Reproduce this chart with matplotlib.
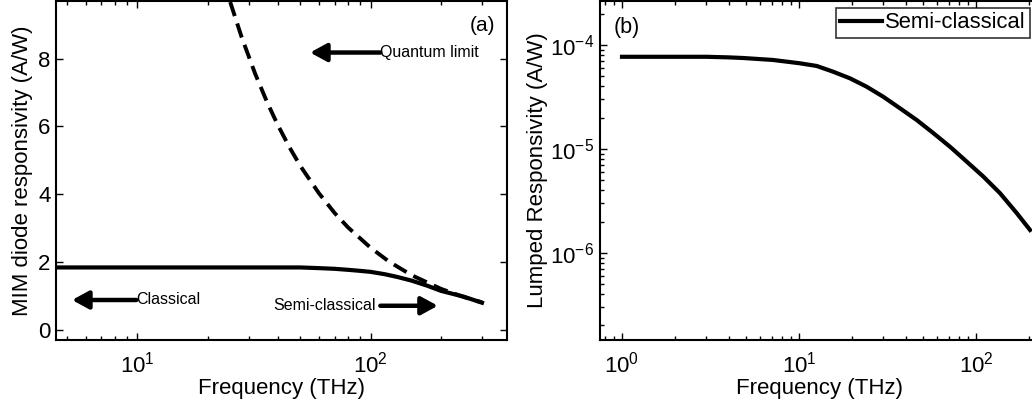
import matplotlib
matplotlib.use("Agg")
import matplotlib.pyplot as plt
from matplotlib.ticker import LogLocator, NullFormatter
from matplotlib.transforms import IdentityTransform

plt.rcParams['font.family'] = ['Liberation Sans', 'DejaVu Sans']
plt.rcParams['mathtext.default'] = 'regular'

# (a) MIM diode responsivity vs frequency
freq_sc = [4.5, 10, 20, 40, 50, 60, 70, 80, 90, 100, 115, 130, 150, 175,
           200, 250, 300]
resp_sc = [1.84, 1.84, 1.84, 1.84, 1.84, 1.82, 1.80, 1.77, 1.74, 1.71, 1.64,
           1.56, 1.45, 1.30, 1.15, 0.98, 0.80]

freq_q = [25, 28, 32, 36, 40, 45, 50, 60, 70, 80, 100, 120, 150, 200, 250, 300]
resp_q = [9.67, 8.63, 7.55, 6.71, 6.04, 5.37, 4.83, 4.03, 3.45, 3.02, 2.42,
          2.01, 1.61, 1.21, 0.97, 0.81]

# (b) lumped responsivity
freq_b = [1, 2, 3, 4, 4.8, 7.1, 10.1, 12.6, 15.6, 19.4, 24.1, 29.9, 37.2,
          46.2, 57.4, 71.3, 88.6, 110, 136.7, 170, 202]
resp_b = [7.7e-5, 7.7e-5, 7.7e-5, 7.6e-5, 7.5e-5, 7.18e-5, 6.67e-5, 6.28e-5,
          5.53e-5, 4.78e-5, 3.97e-5, 3.18e-5, 2.46e-5, 1.90e-5, 1.42e-5,
          1.05e-5, 7.55e-6, 5.42e-6, 3.75e-6, 2.41e-6, 1.66e-6]

W, H = 1032, 408
fig = plt.figure(figsize=(W / 100, H / 100), dpi=100)

ax1 = fig.add_axes([56 / W, 1 - 340 / H, 451 / W, 339 / H])
ax2 = fig.add_axes([600 / W, 1 - 340 / H, 440 / W, 339 / H])

fs = 16
for ax in (ax1, ax2):
    ax.set_xscale('log')
    ax.xaxis.set_minor_locator(LogLocator(base=10, subs=range(2, 10), numticks=20))
    ax.xaxis.set_minor_formatter(NullFormatter())
    ax.tick_params(which='both', direction='in', top=True, right=True,
                   labelsize=fs, width=1)
    ax.tick_params(which='major', length=5)
    ax.tick_params(which='minor', length=3)
    ax.tick_params(axis='x', pad=8)
    ax.tick_params(axis='y', pad=4)
    for s in ax.spines.values():
        s.set_linewidth(1.5)

# panel (a)
ax1.plot(freq_q, resp_q, color='k', lw=2.8, ls=(0, (3.8, 2)))
ax1.plot(freq_sc, resp_sc, color='k', lw=3)
ax1.set_xlim(4.48, 384)
ax1.set_ylim(-0.3, 9.7)
ax1.set_yticks([0, 2, 4, 6, 8])
ax1.set_xlabel('Frequency (THz)', fontsize=fs, labelpad=1)
ax1.set_ylabel('MIM diode responsivity (A/W)', fontsize=fs, labelpad=4)
ax1.text(0.975, 0.955, '(a)', transform=ax1.transAxes, ha='right',
         va='top', fontsize=15)

arrow = dict(arrowstyle='-|>,head_length=0.55,head_width=0.3', lw=3.2,
             color='k', mutation_scale=18, shrinkA=0, shrinkB=0)
ann_fs = 11.5
ax1.annotate('', xy=(55, 8.18), xytext=(110, 8.18), arrowprops=arrow)
ax1.text(110, 8.18, 'Quantum limit', ha='left', va='center', fontsize=ann_fs)
ax1.annotate('', xy=(5.25, 0.88), xytext=(9.9, 0.88), arrowprops=arrow)
ax1.text(9.9, 0.88, 'Classical', ha='left', va='center', fontsize=ann_fs)
ax1.annotate('', xy=(194, 0.71), xytext=(110, 0.71), arrowprops=arrow)
ax1.text(105, 0.71, 'Semi-classical', ha='right', va='center', fontsize=ann_fs)

# panel (b)
ax2.set_yscale('log')
ax2.yaxis.set_minor_locator(LogLocator(base=10, subs=range(2, 10), numticks=20))
ax2.yaxis.set_minor_formatter(NullFormatter())
ax2.plot(freq_b, resp_b, color='k', lw=3, label='Semi-classical')
ax2.set_xlim(0.751, 230)
ax2.set_ylim(1.45e-7, 2.65e-4)
ax2.set_xlabel('Frequency (THz)', fontsize=fs, labelpad=1)
ax2.set_ylabel('Lumped Responsivity (A/W)', fontsize=fs)
ax2.yaxis.set_label_coords(-0.118, 0.5)
ax2.text(614, H - 27, '(b)', transform=IdentityTransform(), fontsize=15.5,
         va='center')

leg = ax2.legend(loc='upper right', bbox_to_anchor=(1030 / W, 1 - 8 / H),
                 bbox_transform=fig.transFigure, fontsize=15.8, frameon=True,
                 fancybox=False, edgecolor='k', borderaxespad=0,
                 handlelength=1.9, handletextpad=0.15, borderpad=0.2)
leg.get_frame().set_linewidth(1.2)

fig.savefig('out.png', dpi=100)
